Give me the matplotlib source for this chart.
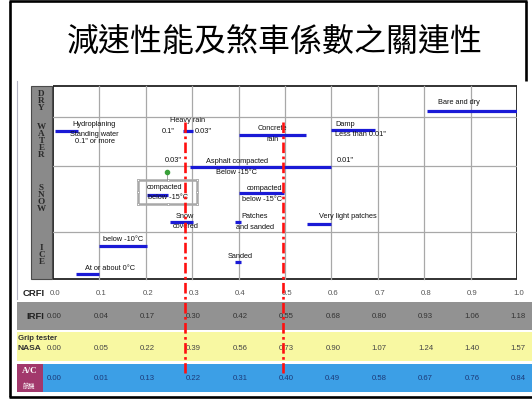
import matplotlib
matplotlib.use('Agg')  # sem GUI
import matplotlib.pyplot as plt
from matplotlib.patches import Rectangle

plt.rcParams['font.family'] = ['Liberation Sans', 'DejaVu Sans']

# escala CRFI e leituras equivalentes dos outros equipamentos
crfi = [0.0, 0.1, 0.2, 0.3, 0.4, 0.5, 0.6, 0.7, 0.8, 0.9, 1.0]
irfi = [0.00, 0.04, 0.17, 0.30, 0.42, 0.55, 0.68, 0.80, 0.93, 1.06, 1.18]
grip_nasa = [0.00, 0.05, 0.22, 0.39, 0.56, 0.73, 0.90, 1.07, 1.24, 1.40, 1.57]
ac = [0.00, 0.01, 0.13, 0.22, 0.31, 0.40, 0.49, 0.58, 0.67, 0.76, 0.84]

# condicoes de pista: faixa CRFI de cada barra azul e altura (px a partir do topo)
cond_names = ['Bare and dry', 'Hydroplaning', 'Heavy rain', 'Concrete rain', 'Damp',
              'Asphalt compacted', 'Snow compacted A', 'Snow compacted B', 'Snow covered',
              'Patches and sanded', 'Very light patches', 'Ice below -10', 'Ice at 0',
              'Ice sanded']
cond_lo = [0.805, 0.005, 0.280, 0.400, 0.600, 0.295, 0.202, 0.400, 0.252, 0.392, 0.547,
           0.100, 0.050, 0.392]
cond_hi = [1.000, 0.054, 0.302, 0.545, 0.695, 0.600, 0.248, 0.497, 0.302, 0.406, 0.600,
           0.202, 0.100, 0.406]
cond_y = [112, 131.5, 132, 135.5, 131, 168, 196, 194, 223, 223, 225, 246.5, 275, 262.5]

# leituras de referencia (linhas vermelhas tracejadas)
marker_crfi = [0.284, 0.496]

row_names = ['DRY', 'WATER', 'SNOW', 'ICE']
row_bounds = [87, 118, 167, 233, 280]

# textos dentro do grafico: (texto, x em CRFI, y em px, alinhamento)
notes = [
    ('Bare and dry', 0.830, 102, 'left'),
    ('Hydroplaning', 0.088, 124, 'center'),
    ('Standing water', 0.088, 134.5, 'center'),
    ('0.1" or more', 0.090, 142, 'center'),
    ('Heavy rain', 0.291, 121, 'center'),
    ('0.1"', 0.248, 132, 'center'),
    ('0.03"', 0.323, 132, 'center'),
    ('Concrete', 0.472, 128, 'center'),
    ('rain', 0.474, 140, 'center'),
    ('Damp', 0.608, 124, 'left'),
    ('Less than 0.01"', 0.608, 135, 'left'),
    ('0.03"', 0.259, 161, 'center'),
    ('Asphalt compacted', 0.397, 162, 'center'),
    ('Below -15°C', 0.396, 173, 'center'),
    ('0.01"', 0.611, 161, 'left'),
    ('compacted', 0.241, 187.5, 'center'),
    ('below -15°C', 0.248, 197.5, 'center'),
    ('compacted', 0.455, 189, 'center'),
    ('below -15°C', 0.450, 200, 'center'),
    ('Snow', 0.284, 217, 'center'),
    ('covered', 0.286, 227, 'center'),
    ('Patches', 0.405, 217, 'left'),
    ('and sanded', 0.394, 228, 'left'),
    ('Very light patches', 0.573, 217, 'left'),
    ('below -10°C', 0.107, 240, 'left'),
    ('At or about 0°C', 0.069, 269, 'left'),
    ('Sanded', 0.403, 257, 'center'),
]

W, H = 532, 402
X0, X1 = 53, 517

fig = plt.figure(figsize=(W / 100, H / 100), dpi=100)

# eixo de fundo em pixels: moldura, titulo, faixas da tabela
bg = fig.add_axes([0, 0, 1, 1])
bg.set_xlim(0, W)
bg.set_ylim(H, 0)
bg.axis('off')

# eixo do grafico: x em CRFI, y em pixels
ax = fig.add_axes([X0 / W, 0, (X1 - X0) / W, 1])
ax.set_xlim(0, 1)
ax.set_ylim(H, 0)
ax.axis('off')
ax.patch.set_alpha(0)

# moldura do slide
for xs, ys in [([9, 527], [2, 2]), ([10, 10], [2, 398]), ([526, 526], [2, 82]),
               ([9, 532], [398, 398])]:
    bg.plot(xs, ys, color='black', lw=1.9, solid_capstyle='butt')
bg.plot([17, 17], [82, 300], color='#b4b4c4', lw=0.8)

bg.text(275, 42, '減速性能及煞車係數之關連性', ha='center', va='center', fontsize=23,
        family=['Noto Sans CJK TC', 'DejaVu Sans'], color='black')

# coluna cinza com DRY / WATER / SNOW / ICE
bg.add_patch(Rectangle((31, 87), 21, 193, fc='#8a8a8a', ec='#4a4a4a', lw=0.8))
for name, top, bot in zip(row_names, row_bounds[:-1], row_bounds[1:]):
    bg.text(41.5, (top + bot) / 2 - 1.5, '\n'.join(name), ha='center', va='center',
            family='Liberation Serif', weight='bold', fontsize=6.6, color='#2a2a2a',
            linespacing=0.86)

# grade
for v in crfi[1:-1]:
    ax.plot([v, v], [row_bounds[0], row_bounds[-1]], color='#a8a8a8', lw=0.9)
for y in row_bounds[1:-1]:
    ax.plot([0, 1], [y, y], color='#a8a8a8', lw=0.9)
ax.add_patch(Rectangle((0, row_bounds[0]), 1, row_bounds[-1] - row_bounds[0],
                       fill=False, ec='#222222', lw=1.3))

# caixa de selecao em volta de "compacted below -15"
bg.add_patch(Rectangle((138, 181), 59, 24, fill=False, ec='#a8a8a8', lw=1.8))
for hx in [138, 167.5, 197]:
    for hy in [181, 193, 205]:
        if hx == 167.5 and hy == 193:
            continue
        bg.plot(hx, hy, marker='s', ms=1.8, mfc='white', mec='#a0a0a0', mew=0.5)
bg.plot([166.7, 166.7], [172.5, 181], color='#909090', lw=0.6)
bg.plot(166.7, 172.5, marker='o', ms=3.0, color='#3aa03a')

# barras das condicoes
ax.hlines(cond_y, cond_lo, cond_hi, color='#1a1ad6', lw=2.3, zorder=4)

for txt, x, y, ha in notes:
    ax.text(x, y, txt, ha=ha, va='center', fontsize=5.3, color='#111111', zorder=5)

# faixas da tabela
bg.add_patch(Rectangle((17, 303), W - 17, 28, fc='#929292', ec='none'))
bg.add_patch(Rectangle((17, 333), W - 17, 29, fc='#f8f8a2', ec='none'))
bg.add_patch(Rectangle((17, 365), W - 17, 28, fc='#3c9fe6', ec='none'))
bg.add_patch(Rectangle((17, 365), 26, 28, fc='#a2386c', ec='none'))

bg.text(34, 294, 'CRFI', ha='center', va='center', fontsize=6.8, weight='bold', color='#222')
bg.text(35, 317, 'IRFI', ha='center', va='center', fontsize=6.8, weight='bold', color='#222')
bg.text(18, 339, 'Grip tester', ha='left', va='center', fontsize=5.6, weight='bold',
        color='#333')
bg.text(18, 349, 'NASA', ha='left', va='center', fontsize=6, weight='bold', color='#333')
bg.text(29.5, 371, 'A/C', ha='center', va='center', fontsize=6.5, weight='bold',
        family='Liberation Serif', color='white')
bg.text(29.5, 386, '航機', ha='center', va='center', fontsize=4.5,
        family=['Noto Sans CJK TC', 'DejaVu Sans'], color='white')

for i, v in enumerate(crfi):
    ax.text(v + 0.004, 294, f'{v:.1f}', ha='center', va='center', fontsize=5.6,
            color='#555555')
    ax.text(v + 0.003, 317, f'{irfi[i]:.2f}', ha='center', va='center', fontsize=5.6,
            color='#333333')
    ax.text(v + 0.003, 349, f'{grip_nasa[i]:.2f}', ha='center', va='center', fontsize=5.6,
            color='#444444')
    ax.text(v + 0.003, 379, f'{ac[i]:.2f}', ha='center', va='center', fontsize=5.6,
            color='#1c3a78')

# linhas de referencia
for m in marker_crfi:
    ax.plot([m, m], [123, 374], color='#ff1010', lw=1.9, linestyle=(0, (4, 1.3, 1, 1.3)),
            zorder=6)

fig.savefig('out.png', dpi=100)
plt.close(fig)
